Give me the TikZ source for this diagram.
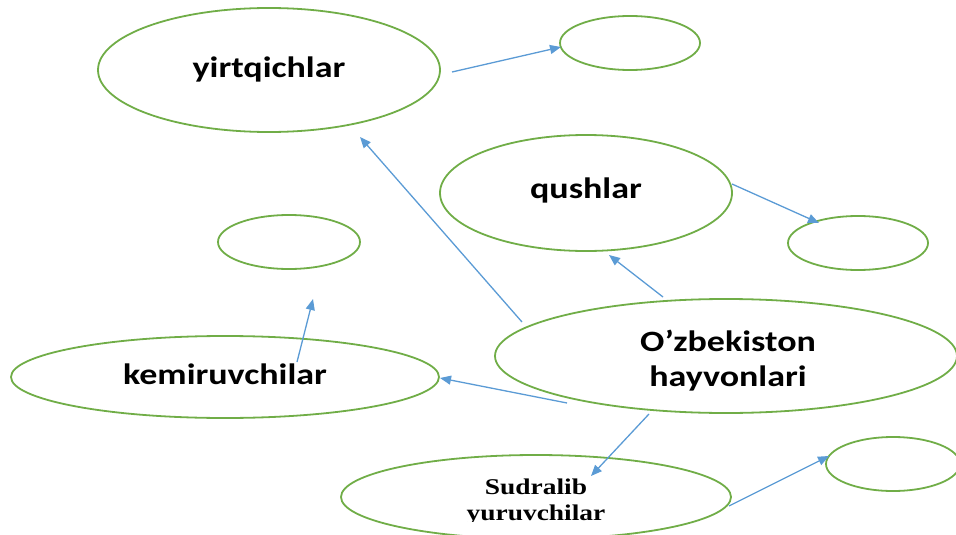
\documentclass[tikz,border=0pt]{standalone}
\usepackage{fontspec}
\newfontfamily\lblfont[FakeStretch=1.22]{Carlito}
\newfontfamily\sudfont[FakeStretch=1.22]{Liberation Serif}
\usetikzlibrary{shapes.geometric,arrows.meta}
\definecolor{egreen}{RGB}{112,173,71}
\definecolor{ablue}{RGB}{91,155,213}
\begin{document}
\begin{tikzpicture}[x=1pt,y=-1pt,
  oval/.style={draw=egreen,line width=1.8pt,ellipse,inner sep=0pt},
  lbl/.style={font=\lblfont\bfseries\fontsize{29.5}{35}\selectfont,align=center,text=black,inner sep=0pt},
  slbl/.style={font=\sudfont\bfseries\fontsize{22.5}{26}\selectfont,align=center,text=black,inner sep=0pt},
  conn/.style={draw=ablue,line width=1.3pt,-{Triangle[length=11pt,width=9pt]}}]
\path[use as bounding box] (0,0) rectangle (956,535);
% ellipses
\node[oval,minimum width=342pt,minimum height=124pt] (yirt) at (269,70) {};
\node[oval,minimum width=140pt,minimum height=54pt] (e1) at (630,43) {};
\node[oval,minimum width=292pt,minimum height=116pt] (qush) at (586,193) {};
\node[oval,minimum width=140pt,minimum height=54pt] (e2) at (858,243) {};
\node[oval,minimum width=142pt,minimum height=54pt] (e3) at (289,242) {};
\node[oval,minimum width=428pt,minimum height=82pt] (kemi) at (225,377) {};
\node[oval,minimum width=462pt,minimum height=114pt] (uzb) at (726,356) {};
\node[oval,minimum width=390pt,minimum height=84pt] (sud) at (536,497) {};
\node[oval,minimum width=134pt,minimum height=54pt] (e4) at (893,464) {};
% labels
\node[lbl] (yirtt) at (269,69) {yirtqichlar};
\node[lbl] (qusht) at (586,190) {qushlar};
\node[lbl] (kemit) at (225,374) {kemiruvchilar};
\node[lbl] (uzbt) at (728,360.5) {O’zbekiston\\hayvonlari};
\begin{scope}
  \clip (300,440) rectangle (780,521);
  \node[slbl] (sudtxt) at (536,502) {Sudralib\\yuruvchilar};
\end{scope}
% connector ends
\coordinate (s1) at (452,72);  \coordinate (t1) at (561,47);
\coordinate (s2) at (522,322); \coordinate (t2) at (360,137);
\coordinate (s3) at (663,297); \coordinate (t3) at (609,255);
\coordinate (s4) at (732,184); \coordinate (t4) at (819,223);
\coordinate (s5) at (297,362); \coordinate (t5) at (313,299);
\coordinate (s6) at (567,403); \coordinate (t6) at (440,378);
\coordinate (s7) at (649,414); \coordinate (t7) at (591,476);
\coordinate (s8) at (729,506); \coordinate (t8) at (829,456);
\foreach \i in {1,...,8} {\draw[conn] (s\i) -- (t\i);}
\end{tikzpicture}
\end{document}
